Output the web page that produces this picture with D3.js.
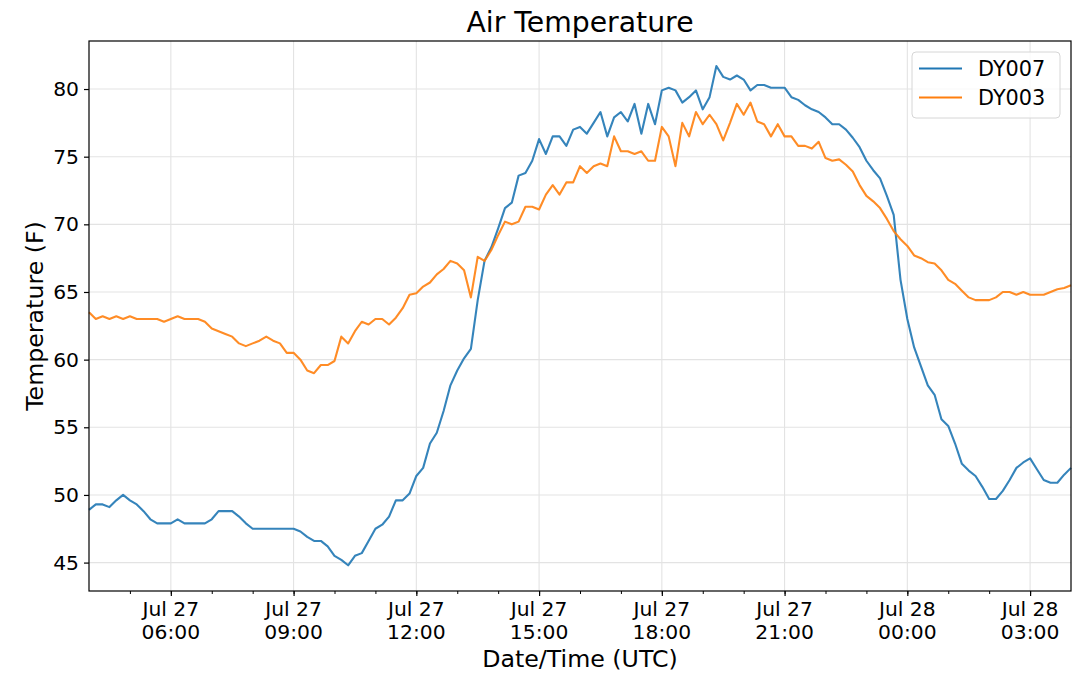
<!DOCTYPE html>
<html>
<head>
<meta charset="utf-8">
<script src="https://cdn.jsdelivr.net/npm/d3@7"></script>
<style>
    body { margin: 0; background: #fff; }
    svg { font-family: "DejaVu Sans", sans-serif; }
</style>
</head>
<body>
<svg id="air-temp-svg" width="1079" height="681"></svg>
<script>
// readings every 10 minutes, Jul 27 04:00 UTC -> Jul 28 04:00 UTC
var startTime = Date.UTC(2018, 6, 27, 4, 0);
var stepMinutes = 10;

var seriesNames = ["DY007", "DY003"];
var seriesColors = ["#1f77b4", "#ff7f0e"];

var tempDY007 = [
    48.9, 49.3, 49.3, 49.1, 49.6, 50.0, 49.6, 49.3, 48.8, 48.2,
    47.9, 47.9, 47.9, 48.2, 47.9, 47.9, 47.9, 47.9, 48.2, 48.8,
    48.8, 48.8, 48.4, 47.9, 47.5, 47.5, 47.5, 47.5, 47.5, 47.5,
    47.5, 47.3, 46.9, 46.6, 46.6, 46.2, 45.5, 45.2, 44.8, 45.5,
    45.7, 46.6, 47.5, 47.8, 48.4, 49.6, 49.6, 50.1, 51.4, 52.0,
    53.8, 54.6, 56.2, 58.1, 59.2, 60.1, 60.8, 64.4, 67.3, 68.3,
    69.7, 71.2, 71.6, 73.6, 73.8, 74.7, 76.3, 75.2, 76.5, 76.5,
    75.8, 77.0, 77.2, 76.7, 77.5, 78.3, 76.5, 77.9, 78.3, 77.6,
    78.9, 76.7, 78.9, 77.4, 79.9, 80.1, 79.9, 79.0, 79.4, 79.9,
    78.5, 79.4, 81.7, 80.9, 80.7, 81.0, 80.7, 79.9, 80.3, 80.3,
    80.1, 80.1, 80.1, 79.4, 79.2, 78.8, 78.5, 78.3, 77.9, 77.4,
    77.4, 77.0, 76.4, 75.7, 74.7, 74.0, 73.4, 72.1, 70.7, 65.9,
    63.0, 60.9, 59.5, 58.1, 57.4, 55.6, 55.1, 53.8, 52.3, 51.8,
    51.4, 50.6, 49.7, 49.7, 50.3, 51.1, 52.0, 52.4, 52.7, 51.9,
    51.1, 50.9, 50.9, 51.5, 52.0
];

var tempDY003 = [
    63.5, 63.0, 63.2, 63.0, 63.2, 63.0, 63.2, 63.0, 63.0, 63.0,
    63.0, 62.8, 63.0, 63.2, 63.0, 63.0, 63.0, 62.8, 62.3, 62.1,
    61.9, 61.7, 61.2, 61.0, 61.2, 61.4, 61.7, 61.4, 61.2, 60.5,
    60.5, 60.0, 59.2, 59.0, 59.6, 59.6, 59.9, 61.7, 61.2, 62.1,
    62.8, 62.6, 63.0, 63.0, 62.6, 63.1, 63.8, 64.8, 64.9, 65.4,
    65.7, 66.3, 66.7, 67.3, 67.1, 66.6, 64.6, 67.6, 67.3, 68.1,
    69.2, 70.2, 70.0, 70.2, 71.3, 71.3, 71.1, 72.2, 72.9, 72.2,
    73.1, 73.1, 74.3, 73.8, 74.3, 74.5, 74.3, 76.5, 75.4, 75.4,
    75.2, 75.4, 74.7, 74.7, 77.2, 76.5, 74.3, 77.5, 76.5, 78.3,
    77.4, 78.1, 77.4, 76.2, 77.5, 78.9, 78.1, 79.0, 77.6, 77.4,
    76.5, 77.4, 76.5, 76.5, 75.8, 75.8, 75.6, 76.1, 74.9, 74.7,
    74.8, 74.4, 73.9, 72.9, 72.1, 71.7, 71.2, 70.4, 69.5, 68.9,
    68.4, 67.7, 67.5, 67.2, 67.1, 66.6, 65.9, 65.6, 65.1, 64.6,
    64.4, 64.4, 64.4, 64.6, 65.0, 65.0, 64.8, 65.0, 64.8, 64.8,
    64.8, 65.0, 65.2, 65.3, 65.5
];

var yTicks = [45, 50, 55, 60, 65, 70, 75, 80];

function build_chart()
{
    var svg = d3.select("#air-temp-svg");
    var margin = {left: 89, right: 1071, top: 41, bottom: 591};

    var times = tempDY007.map(function(d, i) {
        return new Date(startTime + i * stepMinutes * 60000);
    });
    var series = [tempDY007, tempDY003];

    var x = d3.scaleUtc()
        .domain(d3.extent(times))
        .range([margin.left, margin.right]);

    var y = d3.scaleLinear()
        .domain([42.9, 83.55])
        .range([margin.bottom, margin.top]);

    var majorTicks = d3.utcHour.every(3).range(x.domain()[0], x.domain()[1]).filter(function(d) {
        return d.getUTCHours() % 3 === 0 && d > x.domain()[0];
    });
    var minorTicks = d3.utcHour.range(x.domain()[0], x.domain()[1]).filter(function(d) {
        return d > x.domain()[0];
    });

    // grid
    var grid = svg.append("g").attr("stroke", "#e3e3e3").attr("stroke-width", 1.1);
    grid.selectAll(".vgrid").data(majorTicks).enter().append("line")
        .attr("x1", function(d) { return x(d); })
        .attr("x2", function(d) { return x(d); })
        .attr("y1", margin.top)
        .attr("y2", margin.bottom);
    grid.selectAll(".hgrid").data(yTicks).enter().append("line")
        .attr("x1", margin.left)
        .attr("x2", margin.right)
        .attr("y1", function(d) { return y(d); })
        .attr("y2", function(d) { return y(d); });

    // lines
    var line = d3.line()
        .x(function(d, i) { return x(times[i]); })
        .y(function(d) { return y(d); });

    svg.append("g").selectAll("path")
        .data(series)
        .enter().append("path")
        .attr("d", line)
        .attr("fill", "none")
        .attr("stroke", function(d, i) { return seriesColors[i]; })
        .attr("stroke-width", 2.1)
        .attr("stroke-opacity", 0.9)
        .attr("stroke-linejoin", "round");

    // x axis: major ticks with two line labels, minor hourly ticks
    var fmtDay = d3.utcFormat("%b %d");
    var fmtTime = d3.utcFormat("%H:%M");

    var xAxis = svg.append("g")
        .attr("transform", "translate(0," + margin.bottom + ")")
        .call(d3.axisBottom(x).tickValues(majorTicks).tickSize(5).tickPadding(6).tickFormat(""));
    xAxis.select(".domain").remove();
    xAxis.selectAll(".tick line").attr("stroke", "#000").attr("stroke-width", 1.2);

    var xMinor = svg.append("g")
        .attr("transform", "translate(0," + margin.bottom + ")")
        .call(d3.axisBottom(x).tickValues(minorTicks).tickSize(3).tickFormat(""));
    xMinor.select(".domain").remove();
    xMinor.selectAll(".tick line").attr("stroke", "#000");

    var xLabels = svg.append("g").selectAll("text")
        .data(majorTicks)
        .enter().append("text")
        .attr("text-anchor", "middle")
        .style("font-size", "20.3px")
        .attr("fill", "#000");
    xLabels.append("tspan")
        .attr("x", function(d) { return x(d); })
        .attr("y", 616)
        .text(function(d) { return fmtDay(d); });
    xLabels.append("tspan")
        .attr("x", function(d) { return x(d); })
        .attr("y", 639)
        .text(function(d) { return fmtTime(d); });

    // y axis
    var yAxis = svg.append("g")
        .attr("transform", "translate(" + margin.left + ",0)")
        .call(d3.axisLeft(y).tickValues(yTicks).tickSize(5).tickPadding(5));
    yAxis.select(".domain").remove();
    yAxis.selectAll(".tick line").attr("stroke", "#000").attr("stroke-width", 1.2);
    yAxis.selectAll(".tick text")
        .style("font-size", "20.3px")
        .style("font-family", "DejaVu Sans, sans-serif")
        .attr("fill", "#000");

    // frame
    svg.append("rect")
        .attr("x", margin.left)
        .attr("y", margin.top)
        .attr("width", margin.right - margin.left)
        .attr("height", margin.bottom - margin.top)
        .attr("fill", "none")
        .attr("stroke", "#000")
        .attr("stroke-width", 1.2);

    // titles
    svg.append("text")
        .attr("x", (margin.left + margin.right) / 2)
        .attr("y", 32)
        .attr("text-anchor", "middle")
        .style("font-size", "28.3px")
        .text("Air Temperature");

    svg.append("text")
        .attr("x", (margin.left + margin.right) / 2)
        .attr("y", 667)
        .attr("text-anchor", "middle")
        .style("font-size", "23.7px")
        .text("Date/Time (UTC)");

    svg.append("text")
        .attr("transform", "translate(43," + (margin.top + margin.bottom) / 2 + ") rotate(-90)")
        .attr("text-anchor", "middle")
        .style("font-size", "23.7px")
        .text("Temperature (F)");

    // legend
    var legend = svg.append("g");
    legend.append("rect")
        .attr("x", 912)
        .attr("y", 52)
        .attr("width", 148)
        .attr("height", 66)
        .attr("rx", 4)
        .attr("fill", "#fff")
        .attr("fill-opacity", 0.8)
        .attr("stroke", "#d6d6d6");

    var item = legend.selectAll(".item")
        .data(seriesNames)
        .enter().append("g")
        .attr("transform", function(d, i) { return "translate(0," + (68.5 + i * 29) + ")"; });
    item.append("line")
        .attr("x1", 919)
        .attr("x2", 962)
        .attr("stroke", function(d, i) { return seriesColors[i]; })
        .attr("stroke-width", 2.1);
    item.append("text")
        .attr("x", 978)
        .attr("y", 7.6)
        .style("font-size", "20.8px")
        .text(function(d) { return d; });
}

build_chart();
</script>
</body>
</html>
